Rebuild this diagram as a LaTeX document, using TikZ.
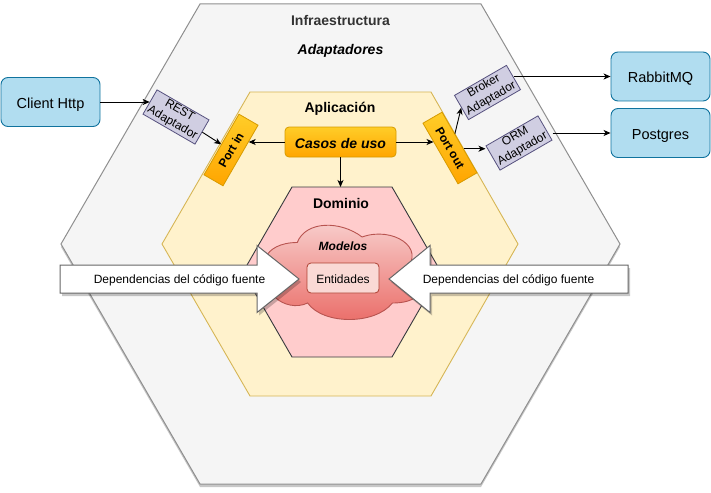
\documentclass[tikz,border=0pt]{standalone}
\usepackage{fontspec}
\setmainfont{Liberation Sans}
\usetikzlibrary{arrows.meta,calc}
\definecolor{outF}{HTML}{F5F5F5}
\definecolor{outS}{HTML}{8F8F8F}
\definecolor{outT}{HTML}{333333}
\definecolor{apF}{HTML}{FFF2CC}
\definecolor{apS}{HTML}{D6B656}
\definecolor{doF}{HTML}{FFCCCC}
\definecolor{doS}{HTML}{36393D}
\definecolor{clT}{HTML}{F8CECC}
\definecolor{clB}{HTML}{EA6B66}
\definecolor{clS}{HTML}{B85450}
\definecolor{enF}{HTML}{FAD9D5}
\definecolor{enS}{HTML}{AE4132}
\definecolor{orT}{HTML}{FFCD28}
\definecolor{orB}{HTML}{FFA500}
\definecolor{orS}{HTML}{D79B00}
\definecolor{puF}{HTML}{D0CEE2}
\definecolor{puS}{HTML}{56517E}
\definecolor{blF}{HTML}{B1DDF0}
\definecolor{blS}{HTML}{10739E}
\definecolor{arS}{HTML}{666666}
\begin{document}
\begin{tikzpicture}[x=1pt,y=-1pt,
  arr/.style={-{Stealth[length=7pt,width=6pt,inset=2pt]}, line width=0.9pt, black},
  bluebox/.style={draw=blS, fill=blF, rounded corners=7pt, minimum width=99pt, minimum height=49pt,
    inner sep=0pt, text height=13pt, text depth=0pt, font=\fontsize{14.5}{17}\selectfont, line width=0.9pt},
  adapt/.style={draw=puS, fill=puF, minimum width=60pt, minimum height=28pt, inner sep=0pt,
    align=center, font=\fontsize{12}{14.5}\selectfont, line width=0.8pt},
  port/.style={draw=orS, top color=orT, bottom color=orB, minimum width=70pt, minimum height=22pt,
    inner sep=0pt, font=\bfseries\fontsize{12}{14}\selectfont, line width=0.8pt},
  casosbox/.style={draw=orS, top color=orT, bottom color=orB, rounded corners=4pt, minimum width=111pt,
    minimum height=30pt, inner sep=0pt, text height=12.6pt, text depth=0pt,
    font=\bfseries\itshape\fontsize{14}{16}\selectfont, line width=0.8pt},
  entbox/.style={draw=enS, fill=enF, rounded corners=4pt, minimum width=72pt, minimum height=30pt,
    inner sep=0pt, text height=10.5pt, text depth=0pt, font=\fontsize{12}{14}\selectfont, line width=0.8pt},
  title/.style={anchor=base, inner sep=0pt, font=\bfseries\fontsize{14}{16}\selectfont},
  ititle/.style={anchor=base, inner sep=0pt, font=\bfseries\itshape\fontsize{14}{16}\selectfont},
  deptext/.style={anchor=base, inner sep=0pt, font=\fontsize{12}{14}\selectfont},
  bigarrow/.style={draw=arS, fill=white, line width=1pt, line join=miter},
  shadowfill/.style={fill=black, opacity=0.22, draw=none}
]
\useasboundingbox (0,0) rectangle (711,492);

% outer hexagon (Infraestructura)
\fill[shadowfill] (61,247) -- (200,7) -- (481,7) -- (620,247) -- (481,487) -- (200,487) -- cycle;
\path[draw=outS, fill=outF, line width=1pt] (61,244) -- (200,4) -- (481,4) -- (620,244) -- (481,484) -- (200,484) -- cycle;

% Aplicacion hexagon
\path[draw=apS, fill=apF, line width=0.9pt] (162,244) -- (250,92) -- (431,92) -- (518,244) -- (431,396) -- (250,396) -- cycle;

% Dominio hexagon
\path[draw=doS, fill=doF, line width=0.9pt] (243,272) -- (292,187) -- (392,187) -- (441,272) -- (392,357) -- (292,357) -- cycle;

% cloud (Modelos)
\path[draw=clS, top color=clT, bottom color=clB, line width=0.9pt]
  (297.25,242.5) .. controls (262.65,242.5) and (254,270) .. (281.68,275.5)
  .. controls (254,287.6) and (285.14,314) .. (307.63,303)
  .. controls (323.2,325) and (375.1,325) .. (392.4,303)
  .. controls (427,303) and (427,281) .. (405.4,270)
  .. controls (427,248) and (392.4,226) .. (362.1,237)
  .. controls (340.5,220.5) and (305.9,220.5) .. (297.25,242.5) -- cycle;

\node[entbox] (ent) at (343,278) {Entidades};

% text labels
\node[title, text=outT] (infra) at (340.5,25.5) {Infraestructura};
\node[ititle] (adap) at (340.5,54.5) {Adaptadores};
\node[title] (apl) at (340,113) {Aplicación};
\node[title] (dom) at (341,208) {Dominio};
\node[anchor=base, inner sep=0pt, font=\bfseries\itshape\fontsize{12}{14}\selectfont] (mod) at (343,250) {Modelos};

% big dependency arrows
\fill[shadowfill] (62,268) -- (259,268) -- (259,248) -- (301,282) -- (259,315.5) -- (259,296) -- (62,296) -- cycle;
\path[bigarrow] (60,265) -- (257,265) -- (257,245.5) -- (299,279) -- (257,312.5) -- (257,293) -- (60,293) -- cycle;
\fill[shadowfill] (630,268) -- (432,268) -- (432,248) -- (391,282) -- (432,315.5) -- (432,296) -- (630,296) -- cycle;
\path[bigarrow] (628,265) -- (430,265) -- (430,245.5) -- (389,279) -- (430,312.5) -- (430,293) -- (628,293) -- cycle;
\node[deptext] (depl) at (179.5,283.3) {Dependencias del código fuente};
\node[deptext] (depr) at (508.5,283.3) {Dependencias del código fuente};

% application nodes
\node[casosbox] (casos) at (340.5,142) {Casos de uso};
\node[port, rotate=60] (pin) at (231,150) {Port in};
\node[port, rotate=-60] (pout) at (450,148) {Port out};
\coordinate (domtop) at (340.5,187);

% adapters
\node[adapt, rotate=-30] (rest) at (176,117) {REST\\Adaptador};
\node[adapt, rotate=30] (broker) at (487.5,92.5) {Broker\\Adaptador};
\node[adapt, rotate=30] (orm) at (519,143) {ORM\\Adaptador};

% external systems
\node[bluebox] (client) at (50.5,102) {Client Http};
\node[bluebox] (rabbit) at (660.5,76.5) {RabbitMQ};
\node[bluebox] (pg) at (660.5,133) {Postgres};

% connectors
\draw[arr] (client.east) -- (client.east -| rest.west);
\draw[arr] (rest.east) -- (pin.north);
\draw[arr, shorten >=7.8pt] (casos.west) -- (casos.west -| pin.south);
\draw[arr, shorten >=6.6pt] (casos.east) -- (casos.east -| pout.south);
\draw[arr] (casos.south) -- (domtop);
\coordinate (pob) at ($(pout.north)!0.28!(pout.north west)$);
\coordinate (poo) at ($(pout.north)!0.21!(pout.north east)$);
\draw[arr] (pob) -- (broker.west);
\draw[arr] (poo) -- (poo -| orm.north west);
\draw[arr] (rabbit.west -| broker.east) -- (rabbit.west);
\draw[arr] (pg.west -| orm.south east) -- (pg.west);
\end{tikzpicture}
\end{document}
